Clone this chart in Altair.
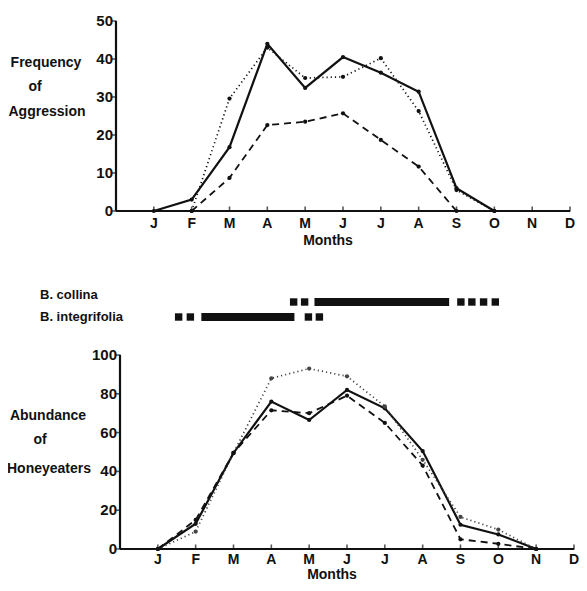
import altair as alt
import pandas as pd

# ---------------- data ----------------
months = ["J", "F", "M", "A", "M", "J", "J", "A", "S", "O", "N", "D"]
month_idx = list(range(1, 13))

top_ticks = [0, 10, 20, 30, 40, 50]
bot_ticks = [0, 20, 40, 60, 80, 100]

# Frequency of aggression (top panel)
top_solid = [0, 3, 16.8, 44, 32.4, 40.5, 36.4, 31.4, 6, 0, None, None]
top_dotted = [None, 0, 29.6, 43, 35, 35.3, 40.2, 26.3, 5.5, 0, None, None]
top_dashed = [None, 0, 8.7, 22.6, 23.5, 25.7, 18.7, 11.7, 0, None, None, None]

# Abundance of honeyeaters (bottom panel)
bot_solid = [0, 13, 49.5, 76, 66.5, 82, 72.5, 50.5, 12.5, 7.5, 0, None]
bot_dotted = [0, 9, 49.5, 88, 93, 89, 73.5, 46, 16.5, 10, 0, None]
bot_dashed = [0, 15, 49.5, 71.5, 70, 79, 65, 43, 5, 2.7, 0, None]

# Flowering periods (month units)
species = ["B. collina", "B. integrifolia"]
collina_dots = [4.59, 4.88, 9.01, 9.30, 9.61, 9.92]
collina_bar = [5.14, 8.70]
integ_dots = [1.55, 1.86, 4.98, 5.27]
integ_bar = [2.15, 4.61]

# ---------------- scales (pixel ranges inside the view) ----------------
XS_T = alt.Scale(domain=[0, 12], range=[108, 562])
YS_T = alt.Scale(domain=[0, 50], range=[203, 13])
XS_B = alt.Scale(domain=[0, 12], range=[112, 566])
YS_B = alt.Scale(domain=[0, 100], range=[541, 347])
YS_R = alt.Scale(type="point", domain=species, range=[294, 309], padding=0)

FONT = "Liberation Sans"
INK = "#111111"


def X(field, sc):
    return alt.X(field, scale=sc, axis=None)


def Y(field, sc):
    return alt.Y(field, scale=sc, axis=None)


def series(vals, xs, ys, dash, sw, color=INK):
    df = pd.DataFrame({"m": month_idx, "v": vals}).dropna()
    df["v"] = df["v"].astype(float)
    base = alt.Chart(df).encode(x=X("m:Q", xs), y=Y("v:Q", ys))
    kw = dict(color=color, strokeWidth=sw)
    if dash:
        kw["strokeDash"] = dash
    return [base.mark_line(**kw), base.mark_circle(size=18, color=color, opacity=1)]


def axes(xs, ys, ymax, yticks, label_dy):
    xl = alt.Chart(pd.DataFrame({"a": [0], "b": [12], "y": [0]})).mark_rule(
        strokeWidth=2.2, color=INK
    ).encode(x=X("a:Q", xs), x2="b:Q", y=Y("y:Q", ys))
    yl = alt.Chart(pd.DataFrame({"x": [0], "a": [0], "b": [ymax]})).mark_rule(
        strokeWidth=2.2, color=INK
    ).encode(x=X("x:Q", xs), y=Y("a:Q", ys), y2="b:Q")
    xt = alt.Chart(pd.DataFrame({"m": month_idx, "y": 0})).mark_tick(
        orient="vertical", size=5, thickness=1.6, yOffset=-2, color=INK
    ).encode(x=X("m:Q", xs), y=Y("y:Q", ys))
    yt = alt.Chart(pd.DataFrame({"v": yticks, "x": 0})).mark_tick(
        orient="horizontal", size=5, thickness=1.6, xOffset=-2, color=INK
    ).encode(x=X("x:Q", xs), y=Y("v:Q", ys))
    ylab = alt.Chart(pd.DataFrame({"v": yticks, "x": 0})).mark_text(
        align="right", baseline="middle", dx=-3, font=FONT, fontWeight="bold",
        fontSize=15, color=INK
    ).encode(x=X("x:Q", xs), y=Y("v:Q", ys), text="v:Q")
    xlab = alt.Chart(pd.DataFrame({"m": month_idx, "lab": months, "y": 0})).mark_text(
        align="center", baseline="middle", dy=label_dy, font=FONT, fontWeight="bold",
        fontSize=14, color=INK
    ).encode(x=X("m:Q", xs), y=Y("y:Q", ys), text="lab:N")
    return [xl, yl, xt, yt, ylab, xlab]


def txt(s, x, y, align="center", size=14):
    return alt.Chart(pd.DataFrame({"t": [s]})).mark_text(
        align=align, baseline="middle", font=FONT, fontWeight="bold",
        fontSize=size, color=INK
    ).encode(text="t:N", x=alt.value(x), y=alt.value(y))


layers = []
# top panel
layers += axes(XS_T, YS_T, 50, top_ticks, 13)
layers += series(top_solid, XS_T, YS_T, None, 2.2)
layers += series(top_dotted, XS_T, YS_T, [1.2, 3], 1.7)
layers += series(top_dashed, XS_T, YS_T, [7, 5], 1.8)
layers += [txt("Frequency", 38, 55), txt("of", 27, 79), txt("Aggression", 39, 104),
           txt("Months", 320, 233)]

# flowering bars
bars_df = pd.DataFrame({"sp": species, "a": [collina_bar[0], integ_bar[0]],
                        "b": [collina_bar[1], integ_bar[1]]})
layers.append(alt.Chart(bars_df).mark_rule(strokeWidth=8, color=INK).encode(
    x=X("a:Q", XS_B), x2="b:Q", y=Y("sp:N", YS_R)))
dots_df = pd.DataFrame({"sp": [species[0]] * len(collina_dots) + [species[1]] * len(integ_dots),
                        "x": collina_dots + integ_dots})
layers.append(alt.Chart(dots_df).mark_square(size=55, color=INK, opacity=1).encode(
    x=X("x:Q", XS_B), y=Y("sp:N", YS_R)))
lab_df = pd.DataFrame({"sp": species})
layers.append(alt.Chart(lab_df).transform_filter(alt.datum.sp == species[0]).mark_text(
    align="left", baseline="middle", dy=-7, font=FONT, fontWeight="bold", fontSize=13, color=INK
).encode(x=alt.value(32), y=Y("sp:N", YS_R), text="sp:N"))
layers.append(alt.Chart(lab_df).transform_filter(alt.datum.sp == species[1]).mark_text(
    align="left", baseline="middle", font=FONT, fontWeight="bold", fontSize=13, color=INK
).encode(x=alt.value(32), y=Y("sp:N", YS_R), text="sp:N"))

# bottom panel
layers += axes(XS_B, YS_B, 100, bot_ticks, 11)
layers += series(bot_solid, XS_B, YS_B, None, 2.2)
layers += series(bot_dotted, XS_B, YS_B, [1.2, 3], 1.7, "#444444")
layers += series(bot_dashed, XS_B, YS_B, [7, 5], 1.8)
layers += [txt("Abundance", 40, 408), txt("of", 32, 432), txt("Honeyeaters", 41, 461),
           txt("Months", 324, 567)]

chart = alt.layer(*layers).resolve_scale(x="independent", y="independent").properties(
    width=571, height=575, autosize="none", padding=0, background="white"
).configure_view(strokeWidth=0)

chart.save("out.html", embed_options={"renderer": "svg", "actions": False})
